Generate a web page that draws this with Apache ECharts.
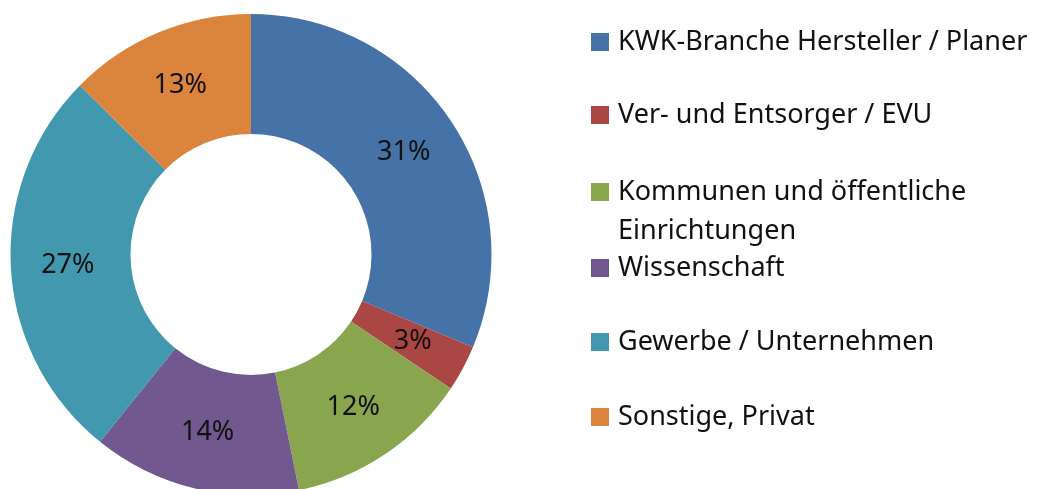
<!DOCTYPE html>
<html>
<head>
<meta charset="utf-8">
<script src="https://cdn.jsdelivr.net/npm/echarts@6/dist/echarts.min.js"></script>
<style>
  html, body { margin: 0; padding: 0; background: #fff; }
  #chart { width: 1048px; height: 489px; }
</style>
</head>
<body>
<div id="chart"></div>
<script>
var names = [
  'KWK-Branche Hersteller / Planer',
  'Ver- und Entsorger / EVU',
  'Kommunen und öffentliche\nEinrichtungen',
  'Wissenschaft',
  'Gewerbe / Unternehmen',
  'Sonstige, Privat'
]
var shares = [31.3, 3.1, 12.4, 14.0, 26.6, 12.6]
var colors = ['#4572a7', '#aa4643', '#89a54e', '#71588f', '#4198af', '#db843d']

// vertical centre of each legend icon
var legendY = [42, 115, 192, 268, 342, 417]

var font = 'Noto Sans'

var legends = names.map(function (n, i) {
  var multi = n.indexOf('\n') >= 0
  var lh = multi ? 39 : 30
  return {
    orient: 'vertical',
    left: 591,
    top: legendY[i] - lh / 2,
    padding: 0,
    itemWidth: 18,
    itemHeight: multi ? 57 : 18,
    itemGap: 0,
    selectedMode: false,
    // two-line entry: keep the square next to the first line
    icon: multi ? 'path://M0,0L18,0L18,18L0,18Z M0,56.9L0,57' : 'rect',
    data: [n],
    textStyle: {
      fontFamily: font,
      fontSize: 27,
      lineHeight: lh,
      color: '#111',
      padding: [0, 0, 0, 4]
    }
  }
})

var chart = echarts.init(document.getElementById('chart'))
chart.setOption({
  animation: false,
  color: colors,
  legend: legends,
  series: [
    {
      type: 'pie',
      center: [251, 254.5],
      radius: [120.5, 240.5],
      startAngle: 90,
      clockwise: true,
      label: {
        show: true,
        position: 'inside',
        fontFamily: font,
        fontSize: 27,
        color: '#111',
        formatter: function (p) {
          return Math.round(p.percent) + '%'
        }
      },
      labelLine: { show: false },
      emphasis: { disabled: true },
      data: names.map(function (n, i) {
        return { name: n, value: shares[i] }
      })
    }
  ]
})
</script>
</body>
</html>
